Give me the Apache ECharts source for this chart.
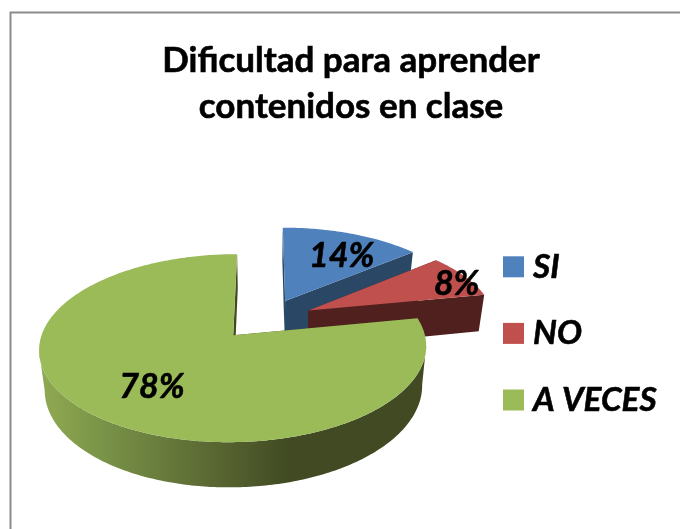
<!DOCTYPE html>
<html><head><meta charset="utf-8">
<style>html,body{margin:0;padding:0;background:#fff}#c{width:680px;height:529px}</style>
<script src="https://cdn.jsdelivr.net/npm/echarts@6/dist/echarts.min.js"></script>
</head><body><div id="c"></div>
<script>
var categories = ['SI', 'NO', 'A VECES'];
var values = [14, 8, 78];
var topColors = ['#4f81bd', '#c0504d', '#9bbb59'];
var cutColors = ['#2a4766', '#4f201e', '#414a22'];
var labelRadius = [0.7, 0.95, 0.62];
var labelNudge = [[8, 4], [0, 6], [2, 5]];

// Projection of the tilted 3D disc
var X0 = 265, Y0 = 319, R = 187, S = 87.8, K = 0.135, DEPTH = 38, BOTTOM_SCALE = 0.975, EXPLODE_X = 0.26, EXPLODE_Y = 0.233;
var FONT = '"Lato", "Open Sans", sans-serif';
var total = values.reduce(function (a, b) { return a + b; }, 0);
function project(u, v, lower) {
  var w = 1 + K * v;
  var x = R * u / w, y = S * v / w;
  if (lower) return [X0 + x * BOTTOM_SCALE, Y0 - y + DEPTH / w];
  return [X0 + x, Y0 - y];
}
var wallFill = [
  '#2a4766',
  '#4f201e',
  new echarts.graphic.LinearGradient(40, 0, 300, 0, [
    {offset: 0, color: '#90aa52'}, {offset: 0.23, color: '#7a9448'}, {offset: 0.62, color: '#5d6c35'},
    {offset: 0.96, color: '#414a22'}, {offset: 1, color: '#414a22'}
  ], true)
];
function renderSlice(index) {
  return function (params, api) {
    var before = 0;
    for (var i = 0; i < index; i++) before += values[i];
    var value = api.value(0);
    var a0 = before / total * Math.PI * 2;
    var a1 = (before + value) / total * Math.PI * 2;
    var mid = (a0 + a1) / 2;
    var ou = EXPLODE_X * Math.sin(mid), ov = EXPLODE_Y * Math.cos(mid);
    var pt = function (a, r, lower) {
      return project(ou + r * Math.sin(a), ov + r * Math.cos(a), lower);
    };
    var children = [];
    var cutFill = cutColors[index];
    [a0, a1].forEach(function (a) {
      children.push({type: 'polygon', shape: {points: [pt(a, 0), pt(a, 1), pt(a, 1, true), pt(a, 0, true)]},
        style: {fill: cutFill}});
    });
    var steps = Math.max(8, Math.ceil((a1 - a0) / 0.015));
    var upper = [], lowerPts = [], iMax = 0, iMin = 0;
    for (var s = 0; s <= steps; s++) {
      var a = a0 + (a1 - a0) * s / steps;
      upper.push(pt(a, 1));
      lowerPts.push(pt(a, 1, true));
      if (upper[s][0] > upper[iMax][0]) iMax = s;
      if (upper[s][0] < upper[iMin][0]) iMin = s;
    }
    // front-facing band of the rim, between the right and left silhouette points
    if (iMax < iMin) {
      var band = upper.slice(iMax, iMin + 1).concat(lowerPts.slice(iMax, iMin + 1).reverse());
      children.push({type: 'polygon', shape: {points: band}, style: {fill: wallFill[index]}});
    }
    children.push({type: 'polygon', shape: {points: [pt(a0, 0)].concat(upper)}, style: {fill: topColors[index]}});
    var lp = pt(mid, labelRadius[index]);
    children.push({type: 'text', z2: 10, style: {text: Math.round(value / total * 100) + '%',
      x: lp[0] + labelNudge[index][0], y: lp[1] + labelNudge[index][1],
      align: 'center', verticalAlign: 'middle', fill: '#000', stroke: '#000', lineWidth: 0.6, font: 'italic bold 34px ' + FONT}});
    return {type: 'group', children: children};
  };
}
var chart = echarts.init(document.getElementById('c'), null, {renderer: 'canvas'});
chart.setOption({
  animation: false,
  backgroundColor: '#fff',
  title: {
    text: 'Dificultad para aprender\ncontenidos en clase',
    left: 346, top: 33, textAlign: 'center',
    textStyle: {fontFamily: FONT, fontWeight: 'bold', fontSize: 35, lineHeight: 46, color: '#000', textBorderColor: '#000', textBorderWidth: 0.6}
  },
  legend: {
    orient: 'vertical', left: 498, top: 245, icon: 'rect', itemWidth: 21, itemHeight: 21, itemGap: 33, selectedMode: false,
    data: categories,
    textStyle: {fontFamily: FONT, fontStyle: 'italic', fontWeight: 'bold', fontSize: 33.3, color: '#000', padding: [0, 0, 0, 4], textBorderColor: '#000', textBorderWidth: 0.6}
  },
  graphic: [
    {type: 'polyline', z: 0, shape: {points: [[10.5, 529], [10.5, 12.5], [680, 12.5]]},
      style: {fill: null, stroke: '#8c8c8c', lineWidth: 2}}
  ],
  series: categories.map(function (name, i) {
    return {type: 'custom', name: name, coordinateSystem: 'none', silent: true,
      itemStyle: {color: topColors[i]}, renderItem: renderSlice(i), data: [[values[i]]], encode: {value: 0}};
  })
});
</script></body></html>
